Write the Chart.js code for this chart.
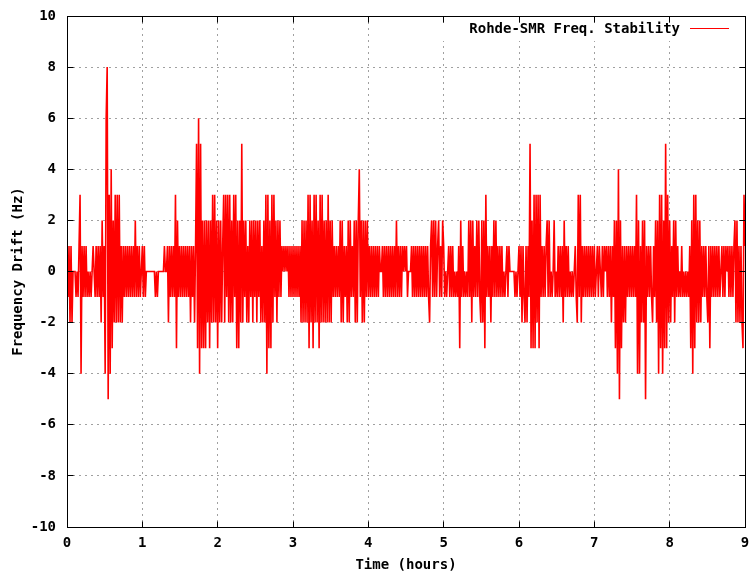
<!DOCTYPE html>
<html>
<head>
<meta charset="utf-8">
<title>Rohde-SMR Freq. Stability</title>
<script src="https://cdn.jsdelivr.net/npm/chart.js@4.4.1/dist/chart.umd.min.js"></script>
<style>
  html, body { margin: 0; padding: 0; background: #fff; }
</style>
</head>
<body>
<canvas id="driftChart" width="749" height="574"></canvas>
<script>
const seriesLabel = 'Rohde-SMR Freq. Stability';
const samplesPerHour = 75;

const hour0 = [1,-1,1,-2,1,-2,0,0,0,-1, 0,-1,1,3,-4,1,-1,1,-1,1, -1,0,-1,0,-1,0,1,0,-1,1, -1,1,-1,1,-2,2,-1,1,-4,6, 8,-5,3,-4,4,-3,2,-2,3,-2, 3,-2,3,-2,1,-2,1,-1,1,-1, 1,-1,1,-1,1,-1,1,-1,2,-1, 1,-1,1,-1,0];
const hour1 = [1,-1,1,-1,0,0,0,0,0,0, 0,0,0,-1,0,-1,0,0,0,0, 0,0,1,0,0,1,-2,1,-1,1, -1,1,-1,3,-3,2,-1,1,-1,1, -1,1,-1,1,-1,1,-1,1,-2,1, -1,1,-2,1,5,-3,6,-4,5,-3, 2,-3,2,-3,2,-2,2,-3,2,-2, 3,-2,3,-2,2];
const hour2 = [-3,2,-2,2,-2,1,3,-2,3,-1, 3,-2,3,-2,2,-2,3,-1,3,-3, 2,-3,2,-2,5,-2,2,-1,2,-2, 1,-2,2,-1,2,-2,2,-1,2,-2, 2,-1,2,-2,1,-2,2,-2,3,-4, 3,-3,2,-3,3,-2,3,-1,2,-2, 2,-1,2,-1,1,0,1,0,1,0, 1,-1,1,-1,1];
const hour3 = [-1,1,-1,1,-1, 1,-1,1,-2,2,-2,2,-2,2,-2, 3,-3,3,-2,2,-3,3,-2,3,-2, 2,-3,3,-2,3,-2,2,-2,2,-2, 3,-2,2,-2,2,-1,1,-1,1,-1, 1,-1,2,-2,2,-2,1,-1,1,-2, 2,-2,2,-1,1,-1,2,-2,2,-2, 2,4,-1,2,-2,2,-2,2,-1,2];
const hour4 = [-1,1,-1,1,-1,1,-1,1,-1,1, -1,1,0,0,1,-1,1,-1,1,-1, 1,-1,1,-1,1,-1,1,-1,2,-1, 1,-1,1,-1,1,0,1,0,1,-1, 0,0,0,1,-1,1,-1,1,-1,1, -1,1,-1,1,-1,1,-1,1,-1,1, -1,-2,1,2,-1,2,-1,2,-1,1, 2,-1,1,-1,2];
const hour5 = [1,-1,0,-1,0, 1,-1,1,-1,1,-1,0,-1,0,-1, 1,-3,2,-1,1,-1,0,-1,0,-1, 2,-1,2,-2,2,-1,1,-1,2,-1, 2,-1,-2,2,-2,2,-3,3,-1,1, -1,1,-2,1,-1,2,-1,2,-1,1, -1,1,-1,1,-1,0,-1,0,1,-1, 1,0,0,0,0,0,-1,0,-1,0];
const hour6 = [1,-1,1,-2,1,-1,-2,1,-2,1, -1,5,-3,2,-3,3,-3,3,-2,3, -3,3,-1,1,-1,1,-1,1,2,-1, 2,-1,0,-1,0,2,-1,0,-1,1, -1,1,-1,1,-2,2,-1,1,-1,1, -1,0,-1,0,-1,0,1,-1,-2,3, -1,3,-2,1,-1,1,-1,1,-1,1, -1,1,-1,1,-1];
const hour7 = [1,-1,0,1,-1,1,0,-1,1,-1, 1,0,1,-1,1,-1,1,-2,1,-1, 2,-3,2,-4,4,-5,2,-3,1,-2, 1,-2,1,-1,1,-1,1,-1,1,-1, 1,-1,3,-4,2,-4,1,-2,2,-2, 2,-5,1,-1,1,-1,1,-1,-2,1, -1,2,-2,2,-4,3,-3,3,-4,2, -3,5,-3,3,-2];
const hour8 = [2,-2,1,-1,2,-2,2,-1,1,-1, 0,-1,1,-1,0,-1,0,-1,0,-1, 1,-3,2,-4,3,-3,3,-2,2,-2, 2,-2,1,-1,1,-1,1,-1,-2,1, -3,1,-1,1,-1,1,-1,1,-1,1, -1,0,1,-1,1,-1,1,0,1,-1, 1,-1,1,-1,1,2,-2,2,-2,1, -2,1,-2,-3,3,1];

const hourBlocks = [hour0, hour1, hour2, hour3, hour4, hour5, hour6, hour7, hour8];
const xTicks = [0, 1, 2, 3, 4, 5, 6, 7, 8, 9];
const yTicks = [-10, -8, -6, -4, -2, 0, 2, 4, 6, 8, 10];

const points = [];
hourBlocks.forEach((vals, h) => {
    vals.forEach((v, j) => points.push({ x: h + j / samplesPerHour, y: v }));
});

const monoFont = { family: "'DejaVu Sans Mono', monospace", size: 14, weight: 'bold' };

// same half-pixel snapping chart.js uses for 1px grid lines
const snap = p => Math.round(p - 0.5) + 0.5;

// gnuplot look: black frame, inward ticks on all four sides, key inside top right
const gnuplotFrame = {
    id: 'gnuplotFrame',
    beforeDatasetsDraw(chart) {
        const ctx = chart.ctx;
        ctx.save();
        ctx.fillStyle = '#fff';
        ctx.fillRect(438, 23, 306, 18);
        ctx.restore();
    },
    afterDatasetsDraw(chart) {
        const { ctx, chartArea: a, scales } = chart;
        const l = snap(a.left), r = snap(a.right);
        const t = snap(a.top), b = snap(a.bottom);
        ctx.save();
        ctx.strokeStyle = '#000';
        ctx.lineWidth = 1;
        ctx.beginPath();
        xTicks.forEach(v => {
            const px = snap(scales.x.getPixelForValue(v));
            ctx.moveTo(px, b); ctx.lineTo(px, b - 6);
            ctx.moveTo(px, t); ctx.lineTo(px, t + 6);
        });
        yTicks.forEach(v => {
            const py = snap(scales.y.getPixelForValue(v));
            ctx.moveTo(l, py); ctx.lineTo(l + 6, py);
            ctx.moveTo(r, py); ctx.lineTo(r - 6, py);
        });
        ctx.stroke();
        ctx.strokeRect(l, t, r - l, b - t);

        ctx.font = 'bold 14px "DejaVu Sans Mono", monospace';
        ctx.fillStyle = '#000';
        ctx.textAlign = 'right';
        ctx.textBaseline = 'middle';
        ctx.fillText(seriesLabel, 680, 29);
        ctx.strokeStyle = '#ff0000';
        ctx.beginPath();
        ctx.moveTo(690, 28.5);
        ctx.lineTo(729, 28.5);
        ctx.stroke();
        ctx.restore();
    }
};

new Chart(document.getElementById('driftChart').getContext('2d'), {
    type: 'line',
    data: {
        datasets: [{
            label: seriesLabel,
            data: points,
            borderColor: '#ff0000',
            borderWidth: 1.6,
            pointRadius: 0,
            tension: 0,
            fill: false
        }]
    },
    options: {
        responsive: false,
        animation: false,
        devicePixelRatio: 1,
        layout: { padding: { top: 16, right: 4, left: 0, bottom: 0 } },
        plugins: {
            legend: { display: false },
            tooltip: { enabled: false }
        },
        scales: {
            x: {
                type: 'linear',
                min: 0,
                max: 9,
                afterFit: s => { s.height = 47; s.paddingLeft = 0; s.paddingRight = 0; },
                afterBuildTicks: s => { s.ticks = xTicks.map(v => ({ value: v })); },
                ticks: { padding: 8, color: '#000', font: monoFont, maxRotation: 0 },
                grid: { color: '#a0a0a0', drawTicks: false },
                border: { display: false, dash: [2, 4] },
                title: { display: true, text: 'Time (hours)', color: '#000', font: monoFont, padding: 0 }
            },
            y: {
                min: -10,
                max: 10,
                afterFit: s => { s.width = 67; s.paddingTop = 0; s.paddingBottom = 0; },
                afterBuildTicks: s => { s.ticks = yTicks.map(v => ({ value: v })); },
                ticks: { padding: 11, color: '#000', font: monoFont },
                grid: { color: '#a0a0a0', drawTicks: false },
                border: { display: false, dash: [2, 4] },
                title: { display: true, text: 'Frequency Drift (Hz)', color: '#000', font: monoFont, padding: { top: 10, bottom: 0 } }
            }
        }
    },
    plugins: [gnuplotFrame]
});
</script>
</body>
</html>
